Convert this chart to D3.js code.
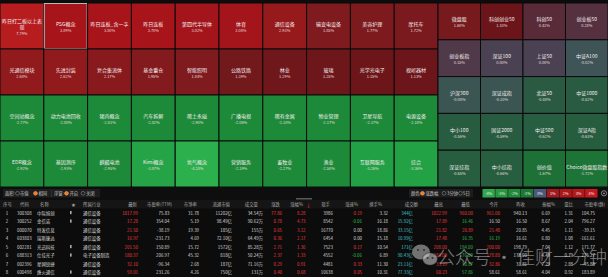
<!DOCTYPE html>
<html><head><meta charset="utf-8">
<script src="https://cdn.jsdelivr.net/npm/d3@7"></script>
<style>
html,body{margin:0;padding:0;background:#0c0c0c;overflow:hidden;}
svg{display:block;font-family:"Noto Sans CJK SC","Noto Sans",sans-serif;}
</style></head><body>
<svg id="c" width="608" height="277"></svg>
<script>
// ---------- heatmap data ----------
const leftNames = [
  "昨日打二板以上表现","PSG概念","昨日连板_含一字","昨日连板","第四代半导体","体育","通信设备","输变电设备","美容护理","摩托车",
  "光通信模块","先进封装","复合集流体","基金重仓","智能照明","公路铁路","林业","玻璃","光学光电子","视听器材",
  "空间站概念","动力电池回收","猪肉概念","汽车拆解","稀土永磁","广播电视","稀有金属","物业管理","卫星导航","电源设备",
  "EDR概念","基因测序","麒麟电池","Kimi概念","氦气概念","营销服务","畜牧业","渔业","互联网服务","综合"
];
const leftValues = [
  7.79,3.89,3.80,3.70,3.02,3.08,2.93,1.85,1.77,1.72,
  2.68,2.62,2.17,1.95,1.84,1.39,1.29,1.25,1.15,1.13,
  -2.77,-2.80,-2.81,-2.82,-2.90,-2.06,-2.10,-2.17,-2.17,-2.18,
  -2.92,-2.93,-2.95,-3.87,-4.24,-2.19,-2.27,-2.50,-3.26,-3.36
];
const rightNames = [
  "微盘股","科创创业50","科创50","创业板50",
  "创业板指","深证100","上证50","中证A100",
  "沪深300","深证成指","北证50","中证1000",
  "中小100","国证2000","中证500","深证A指",
  "深证综指","中小综指","创价值","Choice微盘股指数"
];
const rightValues = [
  1.60,1.10,0.41,0.28,
  0.15,0.00,0.00,-0.02,
  -0.08,-0.10,-0.48,-0.52,
  -0.56,-0.59,-0.62,-0.63,
  -0.65,-0.66,-1.67,-1.72
];
const selectedName = "PSG概念";
const legendTicks = [-4,-3,-2,-1,0,1,2,3,4];
const legendColors = ["#2ea84b","#27983f","#1f8a39","#1c7834","#4b5878","#a01a20","#ad171c","#b5191d","#c21a1e"];

// ---------- table data ----------
const rank = [1,2,3,4,5,6,7,8];
const codes = ["300308","300252","000070","603803","002281","688313","002396","600498"];
const stockNames = ["中际旭创","金信诺","特发信息","瑞斯康达","光迅科技","仕佳光子","星网锐捷","烽火通信"];
const flagged = [true,true,false,false,true,true,false,true];
const industries = ["通信设备","通信设备","通信设备","通信设备","通信设备","电子设备制造","通信设备","通信设备"];
const latest = [1017.99,17.28,21.50,16.97,201.50,180.37,32.10,59.01];
const peTTM = [75.83,354.04,-38.19,-231.73,150.89,206.97,-96.34,231.26];
const pb = [31.78,5.19,19.39,4.69,15.72,45.32,2.68,4.26];
const floatCap = [11202,98.49,185,72.10,1572,818,187,750];      // 亿
const volume = [34.54,90.62,155,64.49,85.28,50.24,71.16,131];   // 万
const change = [77.86,0.78,0.65,0.36,2.71,2.37,0.29,0.40];
const changePct = [8.28,4.73,3.12,2.17,1.36,1.33,0.91,0.68];
const lastHand = [3986,8542,16770,6454,7523,4552,4481,10638];
const speed = [0.19,-0.06,0.00,0.00,0.17,-0.06,0.33,0.05];
const turnover = [3.32,16.18,18.86,15.18,10.54,6.89,11.30,10.31];
const amount = [344,15.92,33.15,10.99,171,90.43,23.11,77.33];   // 亿
const high = [1022.99,17.89,21.82,17.48,208.00,184.00,33.19,60.23];
const low = [960.00,16.46,20.89,16.35,194.00,176.00,30.87,57.86];
const open = [961.00,16.50,21.48,16.19,200.00,178.80,32.86,58.61];
const prevClose = [940.13,16.50,20.85,16.61,198.79,178.00,31.81,58.61];
const amplitude = [6.69,8.67,4.45,6.80,7.04,4.49,7.29,4.04];
const volRatio = [1.31,2.04,1.11,1.08,1.12,0.79,2.88,0.92];
const peStatic = [104.75,796.27,-39.15,-161.61,171.77,275.27,-45.88,183.89];

// ---------- drawing ----------
const svg = d3.select("#c");
const W = 608, H = 277;
svg.append("rect").attr("width",W).attr("height",H).attr("fill","#0c0c0c");

const posScale = d3.scaleLinear()
  .domain([0,0.3,0.6,1.1,1.5,1.9,2.3,2.95,3.0,4,8])
  .range(["#4a4252","#56303f","#5f1f2b","#6b151a","#741a1d","#811a1e","#8b1a1c","#961a1c","#a3151a","#a8141a","#b81e1f"])
  .clamp(true);
const negScale = d3.scaleLinear()
  .domain([-4.3,-3.9,-3.2,-2.95,-2.0,-1.7,-0.65,-0.5,-0.1,-0.01])
  .range(["#2db24e","#25a347","#22a045","#1d8a3a","#1d8a3a","#1d7237","#265e3f","#2a5a42","#3a5552","#3e5457"])
  .clamp(true);
const cellColor = v => v > 0 ? posScale(v) : (v < 0 ? negScale(v) : "#4a4252");

function drawGrid(names, values, xs, ys, ncol) {
  const data = names.map((n,i)=>({name:n, value:values[i], col:i%ncol, row:Math.floor(i/ncol)}));
  const g = svg.append("g");
  const cells = g.selectAll("g.cell").data(data).join("g").attr("class","cell");
  cells.append("rect")
    .attr("x", d=>xs(d.col)).attr("y", d=>ys(d.row))
    .attr("width", xs.bandwidth()).attr("height", ys.bandwidth())
    .attr("fill", d=>cellColor(d.value))
    .attr("stroke","#0a0a0a").attr("stroke-width",1);
  cells.each(function(d){
    const gg = d3.select(this);
    const cx = xs(d.col)+xs.bandwidth()/2, cy = ys(d.row)+ys.bandwidth()/2;
    const cw = xs.bandwidth();
    const t = gg.append("text").attr("x",cx).attr("y",cy-2.6)
      .attr("text-anchor","middle").attr("dominant-baseline","central")
      .attr("font-size",5).attr("fill","#f4eeee").text(d.name);
    let pctY = cy+4.0;
    const len = t.node().getComputedTextLength();
    if (len > cw + 1) {
      // wrap by characters
      const chars = Array.from(d.name);
      let line1 = "";
      t.text("");
      for (const ch of chars) {
        t.text(line1+ch);
        if (t.node().getComputedTextLength() > cw - 3) break;
        line1 += ch;
      }
      const line2 = d.name.slice(line1.length);
      t.text(line1).attr("y",cy-5.5);
      gg.append("text").attr("x",cx).attr("y",cy+0.5)
        .attr("text-anchor","middle").attr("dominant-baseline","central")
        .attr("font-size",5).attr("fill","#f4eeee").text(line2);
      pctY = cy+7;
    }
    gg.append("text").attr("x",cx).attr("y",pctY)
      .attr("text-anchor","middle").attr("dominant-baseline","central")
      .attr("font-size",3.9).attr("fill","#e6dede")
      .text(d.value.toFixed(2)+"%");
  });
  // selection outline
  cells.filter(d=>d.name===selectedName).append("rect")
    .attr("x", d=>xs(d.col)+0.5).attr("y", d=>ys(d.row)+0.5)
    .attr("width", xs.bandwidth()-1).attr("height", ys.bandwidth()-1)
    .attr("fill","none").attr("stroke","#b8b8b8").attr("stroke-width",1);
}

const xL = d3.scaleBand().domain(d3.range(10)).range([0,438]);
const yL = d3.scaleBand().domain(d3.range(4)).range([3,187]);
const xR = d3.scaleBand().domain(d3.range(4)).range([438,608]);
const yR = d3.scaleBand().domain(d3.range(5)).range([3,187]);
drawGrid(leftNames, leftValues, xL, yL, 10);
drawGrid(rightNames, rightValues, xR, yR, 4);

// ---------- toolbar ----------
const tb = svg.append("g");
tb.append("rect").attr("x",0).attr("y",187).attr("width",W).attr("height",13).attr("fill","#0e0e0e");
tb.append("rect").attr("x",3).attr("y",189).attr("width",97).attr("height",8.5).attr("fill","#1d1d1d");
tb.append("rect").attr("x",409).attr("y",189).attr("width",64).attr("height",8.5).attr("fill","#1d1d1d");
function label(x, s){ tb.append("text").attr("x",x).attr("y",193.3).attr("dominant-baseline","central")
  .attr("font-size",4.3).attr("fill","#c8c8c8").text(s); }
function radio(x, on){
  tb.append("circle").attr("cx",x).attr("cy",193.3).attr("r",1.9)
    .attr("fill", on ? "#f07a26" : "none").attr("stroke", on ? "#f5a060" : "#8a8a8a").attr("stroke-width",0.6);
}
label(5,"面积:"); radio(17.5,false); label(20,"市值"); radio(35.5,true); label(38.5,"相同");
tb.append("line").attr("x1",51.5).attr("x2",51.5).attr("y1",190).attr("y2",197).attr("stroke","#444").attr("stroke-width",0.5);
label(54,"浮窗:"); radio(66.5,true); label(69.5,"开启"); radio(83,false); label(86,"关闭");
label(411,"颜色:"); radio(422.5,true); label(425.5,"涨跌幅"); radio(444,false); label(447,"3分钟"); radio(460.5,false); label(463,"5日");
// legend
const lx = d3.scaleBand().domain(legendTicks).range([482.5,597.5]).paddingInner(0.04);
const lc = d3.scaleOrdinal(legendTicks, legendColors);
tb.selectAll("rect.lg").data(legendTicks).join("rect").attr("class","lg")
  .attr("x",d=>lx(d)).attr("y",189).attr("width",lx.bandwidth()).attr("height",8.5).attr("fill",d=>lc(d));
tb.selectAll("text.lg").data(legendTicks).join("text").attr("class","lg")
  .attr("x",d=>lx(d)+lx.bandwidth()/2).attr("y",193.3).attr("text-anchor","middle").attr("dominant-baseline","central")
  .attr("font-size",3.8).attr("fill","#f0f0f0").text(d=>d+"%");
tb.append("circle").attr("cx",604).attr("cy",193.3).attr("r",2.6).attr("fill","none").attr("stroke","#9a9a9a").attr("stroke-width",0.8);
tb.append("circle").attr("cx",604).attr("cy",193.3).attr("r",0.9).attr("fill","#9a9a9a");
tb.append("rect").attr("x",296).attr("y",198).attr("width",16).attr("height",1.5).attr("fill","#5a5a5a");

// ---------- table ----------
const tbl = svg.append("g");
tbl.append("rect").attr("x",0).attr("y",200).attr("width",W).attr("height",8.5).attr("fill","#151515");
const rowY = d3.scaleBand().domain(d3.range(rank.length)).range([208.3, 276.3]);
const UP="#ee3a3a", DN="#2fbf4f", WH="#d8d8d8", CY="#3fc3cc";
const fmtBig = v => v >= 100 ? String(Math.round(v)) : v.toFixed(2);
const cmp = (v, ref) => v > ref ? UP : (v < ref ? DN : WH);
const sgn = v => v > 0 ? UP : (v < 0 ? DN : WH);
const cols = [
  {h:"序号", hx:3, ha:"start", x:7, a:"middle", v:i=>rank[i], c:()=>WH},
  {h:"代码", hx:20, ha:"start", x:17, a:"start", v:i=>codes[i], c:()=>WH},
  {h:"名称", hx:40, ha:"start", x:37, a:"start", v:i=>stockNames[i], c:()=>WH},
  {h:"★", hx:73.5, ha:"middle", x:null},
  {h:"所属行业", hx:83, ha:"start", x:83, a:"start", v:i=>industries[i], c:()=>WH},
  {h:"最新", hx:137, ha:"end", x:138, a:"end", v:i=>latest[i].toFixed(2), c:i=>cmp(latest[i],prevClose[i])},
  {h:"市盈率(TTM)", hx:172, ha:"end", x:169.5, a:"end", v:i=>peTTM[i].toFixed(2), c:()=>WH},
  {h:"市净率", hx:197, ha:"end", x:199, a:"end", v:i=>pb[i].toFixed(2), c:()=>WH},
  {h:"流通市值", hx:230, ha:"end", x:232, a:"end", v:i=>fmtBig(floatCap[i])+"亿", c:()=>WH},
  {h:"成交量", hx:258, ha:"end", x:263, a:"end", v:i=>fmtBig(volume[i])+"万", c:()=>WH},
  {h:"涨跌", hx:280, ha:"end", x:282, a:"end", v:i=>change[i].toFixed(2), c:i=>sgn(change[i])},
  {h:"涨幅%", hx:303, ha:"end", x:305.5, a:"end", v:i=>changePct[i].toFixed(2), c:i=>sgn(changePct[i])},
  {h:"现手", hx:330, ha:"end", x:333, a:"end", v:i=>lastHand[i], c:()=>WH},
  {h:"涨速%", hx:358, ha:"end", x:362, a:"end", v:i=>speed[i].toFixed(2), c:i=>sgn(speed[i])},
  {h:"换手%", hx:382, ha:"end", x:388, a:"end", v:i=>turnover[i].toFixed(2), c:()=>WH},
  {h:"成交额", hx:418, ha:"end", x:413, a:"end", v:i=>fmtBig(amount[i])+"亿", c:()=>CY},
  {h:"最高", hx:443, ha:"end", x:447, a:"end", v:i=>high[i].toFixed(2), c:i=>cmp(high[i],prevClose[i])},
  {h:"最低", hx:470, ha:"end", x:473, a:"end", v:i=>low[i].toFixed(2), c:i=>cmp(low[i],prevClose[i])},
  {h:"今开", hx:498, ha:"end", x:500, a:"end", v:i=>open[i].toFixed(2), c:i=>cmp(open[i],prevClose[i])},
  {h:"昨收", hx:525, ha:"end", x:527, a:"end", v:i=>prevClose[i].toFixed(2), c:()=>WH},
  {h:"振幅%", hx:555, ha:"end", x:550, a:"end", v:i=>amplitude[i].toFixed(2), c:()=>WH},
  {h:"量比", hx:573, ha:"end", x:573, a:"end", v:i=>volRatio[i].toFixed(2), c:()=>WH},
  {h:"市盈率(静)", hx:605, ha:"end", x:595, a:"end", v:i=>peStatic[i].toFixed(2), c:()=>WH}
];
cols.forEach(col=>{
  tbl.append("text").attr("x",col.hx).attr("y",204.3).attr("text-anchor",col.ha).attr("dominant-baseline","central")
    .attr("font-size",4.4).attr("fill","#a8a8a8").text(col.h);
  if (col.x === null) return;
  tbl.selectAll(null).data(rank.map((_,i)=>i)).join("text")
    .attr("x",col.x).attr("y",i=>rowY(i)+rowY.bandwidth()/2)
    .attr("text-anchor",col.a).attr("dominant-baseline","central")
    .attr("font-size",4.4).attr("fill",i=>col.c(i)).text(i=>col.v(i));
});
tbl.append("text").attr("x",306).attr("y",204.3).attr("dominant-baseline","central")
  .attr("font-size",5).attr("fill","#ee3a3a").text("↓");
// flag markers
tbl.selectAll("rect.flag").data(rank.map((_,i)=>i).filter(i=>flagged[i])).join("rect").attr("class","flag")
  .attr("x",70.2).attr("y",i=>rowY(i)+rowY.bandwidth()/2-1.6).attr("width",1.3).attr("height",3.2).attr("fill","#cfcfcf");

// ---------- watermark ----------
const wm = svg.append("g");
wm.append("ellipse").attr("cx",421).attr("cy",252).attr("rx",9).attr("ry",7.5).attr("fill","rgba(215,215,215,0.5)");
wm.append("ellipse").attr("cx",430).attr("cy",259).attr("rx",7.5).attr("ry",6.2).attr("fill","rgba(215,215,215,0.55)").attr("stroke","rgba(20,20,20,0.6)").attr("stroke-width",0.8);
[[418,250],[424,250],[427.5,258],[432.5,258]].forEach(p=>wm.append("circle").attr("cx",p[0]).attr("cy",p[1]).attr("r",1).attr("fill","rgba(30,30,30,0.8)"));
wm.append("text").attr("x",437).attr("y",256).attr("dominant-baseline","central")
  .attr("font-size",18).attr("font-weight",300).attr("fill","rgba(225,225,225,0.55)").text("公众号 · 佳财一分钟");
</script>
</body></html>
